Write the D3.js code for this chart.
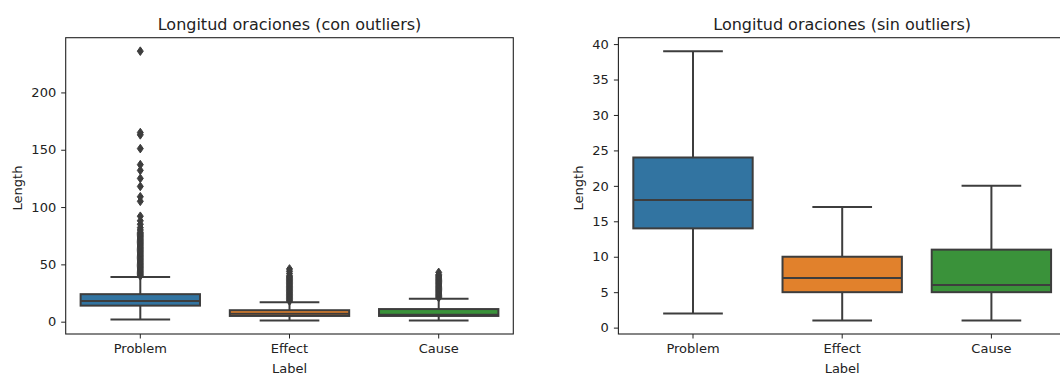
<!DOCTYPE html>
<html>
<head>
<meta charset="utf-8">
<script src="https://cdn.jsdelivr.net/npm/d3@7"></script>
<style>
  body { margin: 0; background: #fff; }
  text { font-family: "DejaVu Sans", sans-serif; fill: #222; }
</style>
</head>
<body>
<div id="chart"></div>
<script>
// Categories and box statistics (same data in both panels)
const labels = ["Problem", "Effect", "Cause"];
const q1 = [14, 5, 5];
const median = [18, 7, 6];
const q3 = [24, 10, 11];
const whiskerLow = [2, 1, 1];
const whiskerHigh = [39, 17, 20];

// Outliers
const problemOutliers = [40, 41, 42, 43, 44, 45, 46, 47, 48, 49, 50, 51, 52, 53, 54, 55, 56, 57, 58, 59,
  60, 61, 62, 63, 64, 65, 66, 67, 68, 69, 70, 71, 72, 73, 74, 75, 76, 77, 78,
  80, 82, 85, 88, 92, 105, 109, 118, 125, 132, 137, 151, 163, 165, 236];
const effectOutliers = [18, 19, 20, 21, 22, 23, 24, 25, 26, 27, 28, 29, 30, 31, 32, 33, 34, 35, 36, 37,
  38, 39, 40, 42, 44, 46];
const causeOutliers = [21, 22, 23, 24, 25, 26, 27, 28, 29, 30, 31, 32, 33, 34, 35, 36, 37, 38, 39, 40,
  41, 43];

const leftTicks = [0, 50, 100, 150, 200];
const rightTicks = [0, 5, 10, 15, 20, 25, 30, 35, 40];

const colors = ["#3274a1", "#e1812c", "#3a923a"];
const gray = "#3d3d3d";

const boxes = labels.map((d, i) => ({
  label: d, q1: q1[i], median: median[i], q3: q3[i],
  lo: whiskerLow[i], hi: whiskerHigh[i], color: colors[i],
  outliers: [problemOutliers, effectOutliers, causeOutliers][i]
}));

const svg = d3.select("#chart").append("svg")
    .attr("width", 1060)
    .attr("height", 375);

const plotTop = 37.7, plotBottom = 334;

function panel(x0, x1, yDomain, ticks, title, showFliers) {
  const g = svg.append("g");

  const x = d3.scaleBand().domain(labels).range([x0, x1]);
  const y = d3.scaleLinear().domain(yDomain).range([plotBottom, plotTop]);
  const bw = x.bandwidth() * 0.8;

  // boxes
  const b = g.selectAll(".box").data(boxes).enter().append("g").attr("class", "box");
  const cx = d => x(d.label) + x.bandwidth() / 2;

  b.append("line")
      .attr("x1", cx).attr("x2", cx)
      .attr("y1", d => y(d.lo)).attr("y2", d => y(d.q1))
      .attr("stroke", gray).attr("stroke-width", 2);
  b.append("line")
      .attr("x1", cx).attr("x2", cx)
      .attr("y1", d => y(d.q3)).attr("y2", d => y(d.hi))
      .attr("stroke", gray).attr("stroke-width", 2);
  b.selectAll(".cap").data(d => [d.lo, d.hi].map(v => ({v, c: cx(d)}))).enter().append("line")
      .attr("x1", d => d.c - bw / 4).attr("x2", d => d.c + bw / 4)
      .attr("y1", d => y(d.v)).attr("y2", d => y(d.v))
      .attr("stroke", gray).attr("stroke-width", 2);
  b.append("rect")
      .attr("x", d => cx(d) - bw / 2)
      .attr("width", bw)
      .attr("y", d => y(d.q3))
      .attr("height", d => y(d.q1) - y(d.q3))
      .attr("fill", d => d.color)
      .attr("stroke", gray).attr("stroke-width", 2);
  b.append("line")
      .attr("x1", d => cx(d) - bw / 2).attr("x2", d => cx(d) + bw / 2)
      .attr("y1", d => y(d.median)).attr("y2", d => y(d.median))
      .attr("stroke", gray).attr("stroke-width", 2);

  if (showFliers) {
    b.selectAll(".flier").data(d => d.outliers.map(v => ({v, c: cx(d)}))).enter().append("path")
        .attr("d", d => {
          const px = d.c, py = y(d.v);
          return `M${px},${py - 4.3}L${px + 3},${py}L${px},${py + 4.3}L${px - 3},${py}Z`;
        })
        .attr("fill", gray).attr("stroke", gray).attr("stroke-width", 1);
  }

  // frame
  g.append("rect")
      .attr("x", x0).attr("y", plotTop)
      .attr("width", x1 - x0).attr("height", plotBottom - plotTop)
      .attr("fill", "none").attr("stroke", "#222").attr("stroke-width", 1.1);

  // axes
  const ax = g.append("g")
      .attr("transform", `translate(0,${plotBottom})`)
      .call(d3.axisBottom(x).tickSize(4.5).tickPadding(5));
  const ay = g.append("g")
      .attr("transform", `translate(${x0},0)`)
      .call(d3.axisLeft(y).tickValues(ticks).tickSize(4.5).tickPadding(5));
  [ax, ay].forEach(a => {
    a.select(".domain").remove();
    a.selectAll("line").attr("stroke", "#222");
    a.selectAll("text").style("font-size", "13px").attr("fill", "#222");
  });

  g.append("text")
      .attr("x", (x0 + x1) / 2).attr("y", 30)
      .attr("text-anchor", "middle")
      .style("font-size", "16px")
      .text(title);

  g.append("text")
      .attr("x", x(labels[1]) + x.bandwidth() / 2).attr("y", 372.5)
      .attr("text-anchor", "middle")
      .style("font-size", "13px")
      .text("Label");

  return g;
}

panel(65.7, 513.3, [-10.75, 247.75], leftTicks, "Longitud oraciones (con outliers)", true);
panel(618.4, 1066, [-0.9, 40.9], rightTicks, "Longitud oraciones (sin outliers)", false);

// y axis titles
[[22, 188], [583, 188]].forEach(p => {
  svg.append("text")
      .attr("transform", `translate(${p[0]},${p[1]}) rotate(-90)`)
      .attr("text-anchor", "middle")
      .style("font-size", "13px")
      .text("Length");
});
</script>
</body>
</html>
